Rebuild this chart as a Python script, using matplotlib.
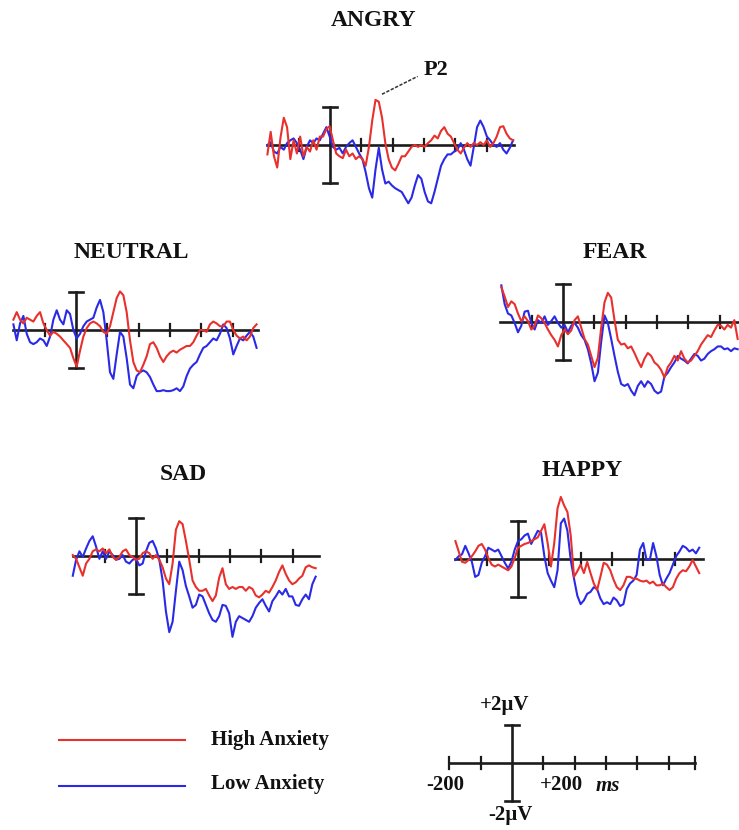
import numpy as np
import matplotlib
matplotlib.use("Agg")
import matplotlib.pyplot as plt

# ---------------- data (µV, sampled evenly over each trace's time span) ----------------
conditions = ["ANGRY", "NEUTRAL", "FEAR", "SAD", "HAPPY"]
series_names = ["High Anxiety", "Low Anxiety"]

angry_span = (-200, 585)
angry_high = [-0.5, 0.7, -0.6, -1.2, 0.4, 1.45, 0.95, -0.75, 0.25, -0.45,
              0.45, -0.6, -0.1, -0.35, 0.25, -0.25, 0.45, 0.45, 0.85, 1.0,
              0.25, -0.45, -0.6, -0.7, -0.25, -0.6, -0.45, -0.75, -0.6, -0.75,
              -1.1, -0.1, 1.3, 2.4, 2.3, 1.45, 0.1, -0.75, -1.2, -1.35,
              -1.0, -0.6, -0.6, -0.35, -0.1, 0.0, -0.1, 0.0, -0.1, 0.1,
              0.25, 0.5, 0.35, 0.75, 0.95, 0.6, 0.45, 0.1, -0.25, -0.45,
              -0.15, 0.1, -0.1, 0.1, 0.0, 0.15, 0.0, 0.25, -0.1, 0.1,
              0.45, 0.95, 1.0, 0.6, 0.35, 0.25]
angry_low = [0.0, 0.15, -0.35, -0.45, -0.1, -0.25, 0.1, 0.25, 0.35, 0.1,
             -0.25, -0.75, -0.1, 0.25, 0.1, 0.35, 0.25, 0.6, 0.95, 0.45,
             -0.1, -0.25, -0.15, -0.45, -0.1, 0.1, 0.25, -0.1, -0.45, -0.75,
             -1.45, -2.3, -2.8, -1.3, -0.15, -1.3, -2.05, -1.95, -2.15, -2.3,
             -2.4, -2.5, -2.8, -3.1, -2.8, -2.15, -1.6, -1.8, -2.5, -3.0,
             -3.1, -2.5, -1.8, -1.1, -0.75, -0.5, -0.5, -0.35, -0.25, 0.1,
             -0.25, -0.75, -1.1, -0.1, 0.95, 1.3, 0.95, 0.45, 0.25, 0.0,
             -0.1, 0.1, -0.25, -0.45, -0.15, 0.25]

neutral_span = (-200, 577)
neutral_high = [0.55, 0.95, 0.55, 0.35, 0.65, 0.55, 0.45, 0.75, 0.95, 0.35,
                0.0, -0.3, -0.1, -0.2, -0.35, -0.55, -0.75, -0.95, -1.5, -1.95,
                -1.1, -0.35, 0.1, 0.35, 0.45, 0.35, 0.2, -0.1, -0.2, 0.2,
                0.95, 1.7, 2.05, 1.85, 0.95, -0.55, -1.7, -2.15, -2.25, -1.85,
                -1.4, -0.75, -0.65, -0.95, -1.4, -1.7, -1.4, -1.2, -1.1, -1.2,
                -1.05, -0.95, -0.85, -0.85, -0.65, -0.3, 0.0, 0.0, -0.1, 0.3,
                0.45, 0.35, 0.2, 0.2, 0.45, 0.45, 0.0, -0.3, -0.45, -0.35,
                -0.55, -0.35, 0.1, 0.3]
neutral_low = [0.3, -0.55, 0.35, 0.75, -0.2, -0.65, -0.75, -0.65, -0.45, -0.55,
               -0.85, -0.35, 0.55, 1.05, 0.55, 0.3, 1.05, 0.85, 0.0, -0.45,
               -0.2, 0.2, 0.45, 0.55, 0.65, 1.2, 1.6, 0.95, -0.55, -2.25,
               -2.6, -1.3, -0.1, -0.35, -1.5, -2.9, -3.1, -2.45, -2.25, -2.15,
               -2.25, -2.5, -2.9, -3.25, -3.25, -3.2, -3.25, -3.25, -3.2, -3.1,
               -3.25, -3.0, -2.45, -2.05, -1.85, -1.7, -1.3, -0.95, -0.85, -0.65,
               -0.45, -0.55, -0.2, 0.3, 0.1, -0.45, -1.3, -0.85, -0.45, -0.55,
               -0.3, -0.1, -0.35, -0.95]

fear_span = (-197, 558)
fear_high = [1.85, 1.35, 0.8, 1.1, 0.95, 0.45, 0.05, 0.3, 0.05, -0.4,
             -0.2, 0.35, 0.2, -0.05, -0.4, -0.7, -0.95, -1.3, -0.7, -0.4,
             -0.65, -0.45, 0.1, 0.3, -0.3, -0.9, -1.2, -1.8, -2.4, -1.9,
             -0.3, 1.05, 1.55, 1.3, 0.1, -0.95, -1.2, -1.15, -1.4, -1.3,
             -1.65, -2.05, -2.4, -1.95, -1.65, -1.8, -2.15, -2.3, -2.55, -2.95,
             -2.4, -2.15, -1.8, -2.05, -1.55, -1.95, -2.15, -2.05, -1.8, -1.55,
             -1.2, -0.95, -0.7, -0.8, -0.45, -0.15, -0.2, -0.4, -0.15, -0.3,
             0.1, -0.9]
fear_low = [1.95, 0.95, 0.45, 0.35, -0.05, -0.55, -0.2, 0.55, 0.6, -0.05,
            -0.4, 0.1, -0.05, 0.3, -0.15, 0.05, 0.3, -0.05, -0.3, -0.15,
            -0.55, -0.2, -0.05, -0.3, -0.7, -0.95, -1.45, -2.2, -3.15, -2.7,
            -1.05, 0.35, -0.05, -0.9, -1.8, -2.65, -3.3, -3.4, -3.3, -3.65,
            -3.9, -3.4, -3.15, -3.45, -3.15, -3.3, -3.65, -3.8, -3.7, -2.9,
            -2.7, -2.4, -2.15, -1.8, -1.95, -2.05, -2.2, -1.95, -1.7, -1.8,
            -2.05, -1.95, -1.7, -1.55, -1.45, -1.3, -1.3, -1.45, -1.4, -1.55,
            -1.4, -1.45]

sad_span = (-202, 574)
sad_high = [0.05, -0.15, -0.6, -1.05, -0.4, -0.15, 0.25, 0.35, 0.25, 0.4,
            0.15, 0.35, -0.05, -0.2, -0.05, 0.25, 0.35, 0.05, -0.05, -0.2,
            -0.15, 0.15, 0.25, 0.15, -0.15, 0.05, -0.2, -0.6, -1.2, -1.5,
            -0.4, 1.4, 1.85, 1.7, 0.8, -0.2, -1.3, -1.65, -1.85, -1.85,
            -1.75, -2.1, -2.4, -2.1, -1.15, -0.65, -1.5, -1.75, -1.65, -1.75,
            -1.65, -1.65, -1.85, -1.65, -1.75, -2.1, -2.2, -2.05, -1.85, -1.95,
            -1.65, -1.3, -0.85, -0.5, -0.95, -1.3, -1.5, -1.4, -1.2, -1.05,
            -0.6, -0.5, -0.6, -0.65]
sad_low = [-1.05, -0.2, 0.25, -0.05, 0.4, 0.8, 1.05, 0.5, -0.15, 0.25,
           -0.15, 0.25, 0.05, -0.2, -0.15, 0.05, -0.3, -0.4, -0.2, -0.15,
           -0.5, -0.4, 0.25, 0.7, 0.8, 0.4, -0.2, -1.3, -2.95, -4.05,
           -3.5, -1.85, -0.3, -0.75, -1.6, -2.15, -2.75, -2.6, -2.05, -2.15,
           -2.6, -3.05, -3.4, -3.5, -3.2, -2.6, -2.65, -3.05, -4.3, -3.5,
           -3.2, -3.3, -3.4, -3.5, -3.2, -2.75, -2.5, -2.3, -2.65, -2.95,
           -2.4, -2.15, -1.85, -2.05, -1.75, -2.15, -2.15, -2.6, -2.65, -2.3,
           -2.05, -2.3, -1.5, -1.1]

happy_span = (-200, 579)
happy_high = [0.95, 0.4, -0.15, -0.2, -0.05, 0.15, 0.4, 0.7, 0.8, 0.5,
              0.05, -0.3, -0.4, -0.3, -0.4, -0.5, -0.6, -0.4, 0.05, 0.6,
              0.7, 0.8, 0.85, 0.95, 1.05, 1.15, 1.5, 1.85, 0.85, -0.4,
              0.85, 2.7, 3.3, 2.85, 2.5, 1.25, -0.95, -0.65, -0.3, -0.75,
              -0.15, -0.75, -1.3, -1.65, -0.95, -0.2, -0.3, -0.6, -1.1, -1.5,
              -1.65, -1.4, -0.95, -0.95, -1.05, -1.05, -1.15, -1.2, -1.15, -1.3,
              -1.2, -1.4, -1.4, -1.3, -1.5, -1.65, -1.5, -1.05, -0.75, -0.6,
              -0.65, -0.4, -0.05, -0.4, -0.75]
happy_low = [-0.05, 0.15, 0.25, 0.7, 0.3, -0.15, -0.95, -0.85, -0.2, 0.15,
             0.6, 0.5, 0.4, 0.5, 0.15, -0.2, -0.5, -0.15, 0.5, 0.95,
             1.05, 1.25, 1.35, 0.8, 1.15, 1.5, 1.4, 0.15, -0.75, -1.15,
             -1.5, -0.6, 1.9, 2.15, 1.5, -0.05, -1.05, -1.95, -2.4, -2.2,
             -1.85, -1.75, -1.5, -1.6, -2.1, -2.4, -2.3, -2.4, -2.05, -2.2,
             -2.5, -2.4, -1.6, -1.3, -1.15, -0.85, 0.5, 0.85, -0.05, -0.05,
             0.85, 0.15, -0.85, -1.4, -1.05, -0.75, -0.3, 0.15, 0.4, 0.7,
             0.6, 0.4, 0.5, 0.3, 0.6]

tick_times = [-100, 100, 200, 300, 400, 500]
scale_ticks = [-200, -100, 100, 200, 300, 400, 500, 584]
calib_uv = 2.0

# ---------------- layout ----------------
W, H = 739, 830
PX_MS = 0.313
PX_UV = 18.8
RED = "#e8302c"
BLUE = "#2a2ae6"
AXC = "#1c1c1c"
TXT = "#111111"
SERIF = ["Liberation Serif", "DejaVu Serif"]

fig = plt.figure(figsize=(W / 100, H / 100), dpi=100)
fig.patch.set_facecolor("white")


def fx(x):
    return x / W


def fy(y):
    return 1 - y / H


def panel_axes(x0, y0):
    t_lo, t_hi = -260, 680
    v_lo, v_hi = -5.5, 4.8
    left = (x0 + t_lo * PX_MS) / W
    width = (t_hi - t_lo) * PX_MS / W
    bottom = 1 - (y0 - v_lo * PX_UV) / H
    height = (v_hi - v_lo) * PX_UV / H
    ax = fig.add_axes([left, bottom, width, height])
    ax.set_xlim(t_lo, t_hi)
    ax.set_ylim(v_lo, v_hi)
    ax.axis("off")
    ax.patch.set_alpha(0)
    return ax


def draw_frame(ax, t_end, ticks):
    ax.plot([-200, t_end], [0, 0], color=AXC, lw=1.9, clip_on=False, zorder=1)
    th = 0.3
    for t in ticks:
        ax.plot([t, t], [-th, th], color=AXC, lw=1.6, clip_on=False, zorder=1)
    ax.plot([0, 0], [-calib_uv, calib_uv], color=AXC, lw=1.9, clip_on=False, zorder=1)
    for v in (-calib_uv, calib_uv):
        ax.plot([-22, 22], [v, v], color=AXC, lw=1.9, clip_on=False, zorder=1)


panels = [
    ("ANGRY", 330, 145, angry_span, angry_high, angry_low, 589, (374, 21)),
    ("NEUTRAL", 76, 330, neutral_span, neutral_high, neutral_low, 581, (131, 252)),
    ("FEAR", 563, 322, fear_span, fear_high, fear_low, 640, (615, 252)),
    ("SAD", 136, 556, sad_span, sad_high, sad_low, 585, (183, 474)),
    ("HAPPY", 518, 559, happy_span, happy_high, happy_low, 591, (582, 470)),
]

axes = {}
for name, x0, y0, span, hi, lo, t_end, (tx, ty) in panels:
    ax = panel_axes(x0, y0)
    axes[name] = ax
    draw_frame(ax, t_end, tick_times)
    t_lo_ = np.linspace(span[0], span[1], len(lo))
    t_hi_ = np.linspace(span[0], span[1], len(hi))
    ax.plot(t_lo_, lo, color=BLUE, lw=1.5, clip_on=False, zorder=2)
    ax.plot(t_hi_, hi, color=RED, lw=1.5, clip_on=False, zorder=3)
    fig.text(fx(tx), fy(ty), name, ha="center", va="center", fontsize=17,
             fontweight="bold", family=SERIF, color=TXT)

# P2 label
axA = axes["ANGRY"]
axA.plot([166, 280], [2.7, 3.65], color="#333333", lw=1.1,
         linestyle=(0, (2.2, 1.0)), clip_on=False)
axA.text(300, 4.0, "P2", ha="left", va="center", fontsize=16,
         fontweight="bold", family=SERIF, color=TXT)

# ---------------- scale bar ----------------
axS = panel_axes(512, 763)
draw_frame(axS, 584, scale_ticks)
fig.text(fx(505), fy(705), "+2\u00b5V", ha="center", va="center", fontsize=15,
         fontweight="bold", family=SERIF, color=TXT)
fig.text(fx(510), fy(815), "-2\u00b5V", ha="center", va="center", fontsize=15,
         fontweight="bold", family=SERIF, color=TXT)
fig.text(fx(445), fy(785), "-200", ha="center", va="center", fontsize=15,
         fontweight="bold", family=SERIF, color=TXT)
fig.text(fx(540), fy(785), "+200", ha="left", va="center", fontsize=15,
         fontweight="bold", family=SERIF, color=TXT)
fig.text(fx(596), fy(786), "ms", ha="left", va="center", fontsize=15,
         fontweight="bold", style="italic", family=SERIF, color=TXT)

# ---------------- legend ----------------
axL = fig.add_axes([0, 0, 1, 1])
axL.set_xlim(0, W)
axL.set_ylim(H, 0)
axL.axis("off")
axL.patch.set_alpha(0)
axL.plot([59, 185], [740, 740], color=RED, lw=1.5)
axL.plot([59, 185], [786, 786], color=BLUE, lw=1.5)
axL.text(211, 740, series_names[0], ha="left", va="center", fontsize=15,
         fontweight="bold", family=SERIF, color=TXT)
axL.text(211, 784, series_names[1], ha="left", va="center", fontsize=15,
         fontweight="bold", family=SERIF, color=TXT)

fig.savefig("out.png", dpi=100, facecolor="white")
